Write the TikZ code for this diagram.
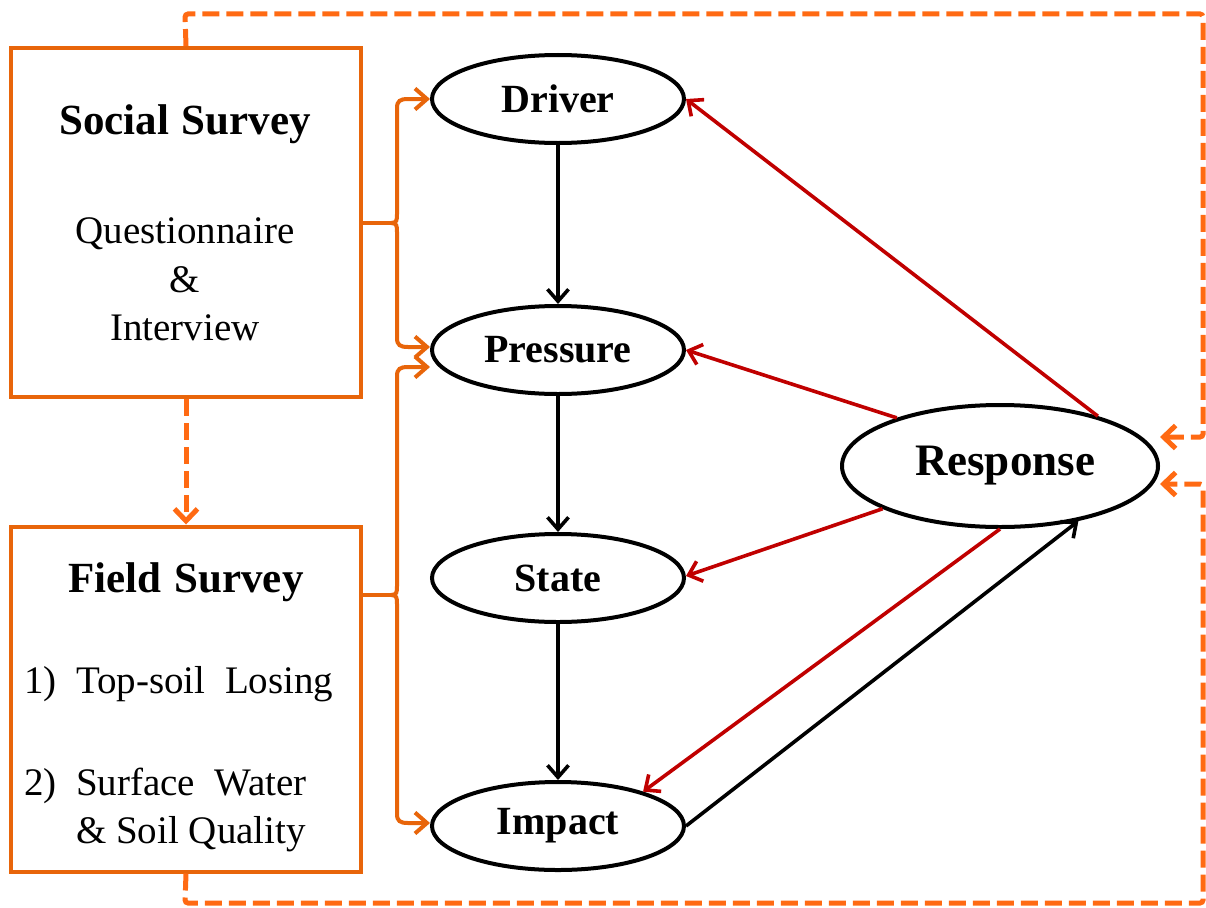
\documentclass[tikz,border=0pt]{standalone}
\usepackage{fontspec}
\setmainfont{Liberation Serif}
\usetikzlibrary{shapes.geometric,arrows.meta,calc}
\definecolor{boxorange}{HTML}{E8650A}
\definecolor{dashorange}{HTML}{FF6A13}
\definecolor{respred}{HTML}{C00000}
\begin{document}
\begin{tikzpicture}[x=1pt,y=-1pt,
  barb/.style={-{Straight Barb[length=12pt,width=21pt]}},
  stage/.style={ellipse,draw=black,line width=4pt,minimum width=252pt,minimum height=88pt,inner sep=0pt,
    font=\fontsize{40}{42}\selectfont\bfseries},
  surveybox/.style={draw=boxorange,line width=4pt,inner sep=0pt},
  heading/.style={font=\fontsize{43}{46}\selectfont\bfseries,anchor=base},
  body/.style={font=\fontsize{39}{44}\selectfont,inner sep=0pt},
  flow/.style={barb,draw=black,line width=3.6pt},
  feedback/.style={barb,draw=respred,line width=3.6pt},
  brace/.style={barb,draw=boxorange,line width=4pt},
  loop/.style={-{Straight Barb[length=12pt,width=23pt]},draw=dashorange,line width=5pt,
    dash pattern=on 17pt off 7pt,rounded corners=3pt}
]
\useasboundingbox (0,0) rectangle (1206,907);

% survey boxes
\node[surveybox,minimum width=350pt,minimum height=349pt] (social) at (186,222.5) {};
\node[surveybox,minimum width=350pt,minimum height=345pt] (field) at (186,699) {};

% survey texts
\node[heading] (socialtitle) at (185,134) {Social\hspace{0.3em}Survey};
\node[body,anchor=base] (quest) at (185,243) {Questionnaire};
\node[body,anchor=base] (amp) at (185,292) {\&};
\node[body,anchor=base] (interview) at (185,340) {Interview};

\node[heading] (fieldtitle) at (186,592) {Field\hspace{0.3em}Survey};
\node[body,anchor=base west] (num1) at (24,693) {1)};
\node[body,anchor=base west] (item1) at (76,693) {Top-soil\ \ Losing};
\node[body,anchor=base west] (num2) at (24,795) {2)};
\node[body,anchor=base west] (item2) at (76,795) {Surface\ \ Water};
\node[body,anchor=base west] (item2b) at (76,843) {\& Soil Quality};

% DPSIR chain
\node[stage] (driver) at (558,99) {Driver};
\node[stage] (pressure) at (558,350) {Pressure};
\node[stage] (state) at (558,578) {State};
\node[stage] (impact) at (558,826) {Impact};
\node[stage,minimum width=316pt,minimum height=122pt,font=\fontsize{45}{48}\selectfont\bfseries]
  (response) at (1000,466) {\hspace{10pt}Response};

\draw[flow] (driver) -- (pressure);
\draw[flow] (pressure) -- (state);
\draw[flow] (state) -- (impact);
\draw[flow] (impact.east) -- (response.325);

\draw[feedback] (response.27) -- (driver.east);
\draw[feedback] (response.155) -- (pressure.east);
\draw[feedback] (response.200) -- ([yshift=2pt]state.east);
\draw[feedback] (response.south) -- (impact.22);

% braces from the survey boxes to the stages
\coordinate (sb) at (social.east |- 0,223);
\coordinate (fb) at (field.east |- 0,595);
\draw[boxorange,line width=4pt] (sb) -- (391,223);
\draw[brace] (391,223) .. controls (397,223) and (397,220) .. (397,214) -- (397,108)
  .. controls (397,101) and (400,99) .. (408,99) -- (driver.west);
\draw[brace] (391,223) .. controls (397,223) and (397,226) .. (397,232) -- (397,338)
  .. controls (397,345) and (400,347) .. (408,347) -- ([yshift=3pt]pressure.west);
\draw[boxorange,line width=4pt] (fb) -- (391,595);
\draw[brace] (391,595) .. controls (397,595) and (397,592) .. (397,586) -- (397,376)
  .. controls (397,369) and (400,367) .. (408,367) -- ([yshift=-17pt]pressure.west);
\draw[brace] (391,595) .. controls (397,595) and (397,598) .. (397,604) -- (397,814)
  .. controls (397,821) and (400,823) .. (408,823) -- ([yshift=3pt]impact.west);

% survey sequence and feedback loops
\draw[loop] (social.south) -- (field.north);
\draw[loop] (social.north) -- (185,14) -- (1203,14) -- (1203,437) -- (response.east |- 0,437);
\draw[loop] (field.south) -- (185,903) -- (1203,903) -- (1203,484) -- (response.east |- 0,484);
\end{tikzpicture}
\end{document}
